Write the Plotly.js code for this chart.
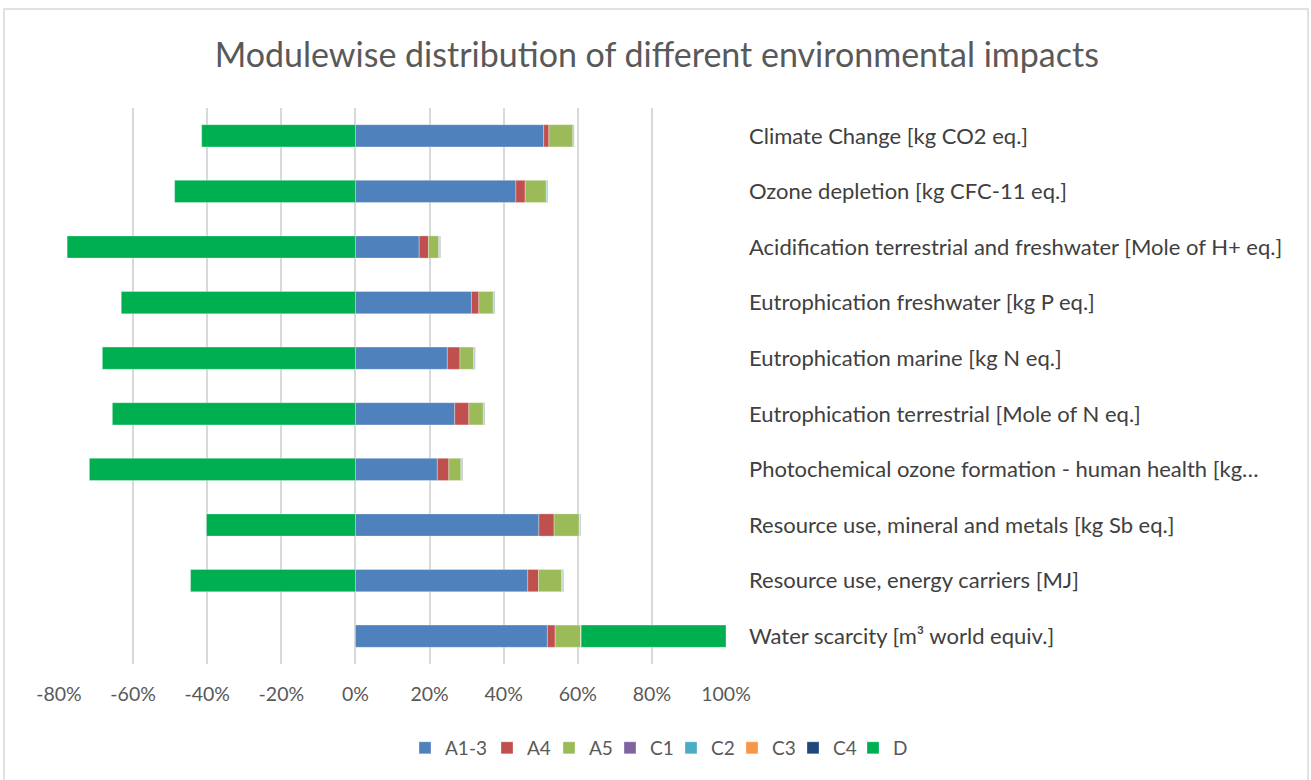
<!DOCTYPE html>
<html>
<head>
<meta charset="utf-8">
<script src="https://cdn.plot.ly/plotly-3.0.1.min.js"></script>
<style>html,body{margin:0;padding:0;background:#fff;}#chart{width:1311px;height:780px;}</style>
</head>
<body>
<div id="chart"></div>
<script>
const categories = [
  "Climate Change [kg CO2 eq.]",
  "Ozone depletion [kg CFC-11 eq.]",
  "Acidification terrestrial and freshwater [Mole of H+ eq.]",
  "Eutrophication freshwater [kg P eq.]",
  "Eutrophication marine [kg N eq.]",
  "Eutrophication terrestrial [Mole of N eq.]",
  "Photochemical ozone formation - human health [kg…",
  "Resource use, mineral and metals [kg Sb eq.]",
  "Resource use, energy carriers [MJ]",
  "Water scarcity [m³ world equiv.]"
];
const A1_3 = [0.508, 0.433, 0.172, 0.313, 0.248, 0.268, 0.221, 0.495, 0.465, 0.518];
const A4   = [0.014, 0.025, 0.025, 0.020, 0.034, 0.038, 0.031, 0.041, 0.029, 0.021];
const A5   = [0.065, 0.057, 0.028, 0.039, 0.037, 0.039, 0.033, 0.068, 0.063, 0.070];
const C1   = [0.0005, 0.0005, 0.0005, 0.0005, 0.0005, 0.0005, 0.0005, 0.0005, 0.0005, 0.0];
const C2   = [0.001, 0.002, 0.002, 0.002, 0.002, 0.002, 0.002, 0.001, 0.002, 0.0];
const C3   = [0.0005, 0.0005, 0.0005, 0.0005, 0.0005, 0.0005, 0.0005, 0.0005, 0.0005, 0.0];
const C4   = [0.001, 0.001, 0.001, 0.001, 0.001, 0.001, 0.001, 0.001, 0.001, 0.0];
const D    = [-0.415, -0.488, -0.778, -0.632, -0.683, -0.656, -0.718, -0.402, -0.445, 0.391];
const seriesNames = ["A1-3", "A4", "A5", "C1", "C2", "C3", "C4", "D"];
const seriesValues = [A1_3, A4, A5, C1, C2, C3, C4, D];
const seriesColors = ["#4F81BD", "#C0504D", "#9BBB59", "#8064A2", "#4BACC6", "#F79646", "#1F497D", "#00B050"];
const xTickVals = [-0.8, -0.6, -0.4, -0.2, 0, 0.2, 0.4, 0.6, 0.8, 1.0];
const xTickText = ["-80%", "-60%", "-40%", "-20%", "0%", "20%", "40%", "60%", "80%", "100%"];

const FONT = "Lato, 'Open Sans', sans-serif";
const PLOT_L = 59, PLOT_W = 667;
// pixel left edges of each legend swatch in the reference
const legendSwatchPx = [420, 502, 564, 625, 686, 747, 808, 868];
const legendIds = ["legend", "legend2", "legend3", "legend4", "legend5", "legend6", "legend7", "legend8"];

const traces = seriesNames.map((n, i) => ({
  type: "bar",
  orientation: "h",
  name: n,
  y: categories,
  x: seriesValues[i],
  legend: legendIds[i],
  showlegend: true,
  marker: {color: seriesColors[i], line: {color: "rgba(255,255,255,0.6)", width: 0.5}},
  hoverinfo: "x+y+name"
}));

const layout = {
  width: 1311, height: 780,
  paper_bgcolor: "#ffffff", plot_bgcolor: "#ffffff",
  margin: {l: 59, r: 585, t: 108, b: 116, pad: 0},
  barmode: "relative",
  bargap: 0.6,
  showlegend: true,
  font: {family: FONT, color: "#595959"},
  title: {
    text: "Modulewise distribution of different environmental impacts",
    font: {family: FONT, size: 34, color: "#595959"},
    x: 0.501, xanchor: "center", xref: "container",
    y: 0.929, yanchor: "middle", yref: "container"
  },
  xaxis: {
    range: [-0.8, 1.0],
    tickvals: xTickVals, ticktext: xTickText,
    showgrid: true, gridcolor: "#d9d9d9", gridwidth: 2,
    zeroline: false, showline: false, ticks: "",
    ticklabelstandoff: 16,
    tickfont: {family: FONT, size: 19.5, color: "#595959"}
  },
  yaxis: {
    type: "category",
    autorange: "reversed",
    side: "right",
    showgrid: false, zeroline: false, showline: false, ticks: "",
    ticklabelstandoff: 22,
    tickfont: {family: FONT, size: 22, color: "#404040"}
  },
  shapes: [{
    type: "rect", xref: "paper", yref: "paper",
    x0: -0.0825, x1: 1.8726, y0: -0.23, y1: 1.178,
    line: {color: "#d9d9d9", width: 1.5}, fillcolor: "rgba(0,0,0,0)", layer: "below"
  }]
};

const LEG_OFFSET = 15;
legendIds.forEach((id, i) => {
  layout[id] = {
    orientation: "h",
    x: (legendSwatchPx[i] - LEG_OFFSET - PLOT_L) / PLOT_W, xanchor: "left",
    y: -0.151, yanchor: "middle",
    font: {family: FONT, size: 19, color: "#595959"},
    itemwidth: 30,
    bgcolor: "rgba(0,0,0,0)"
  };
});

Plotly.newPlot("chart", traces, layout, {displayModeBar: false, staticPlot: true});
</script>
</body>
</html>
